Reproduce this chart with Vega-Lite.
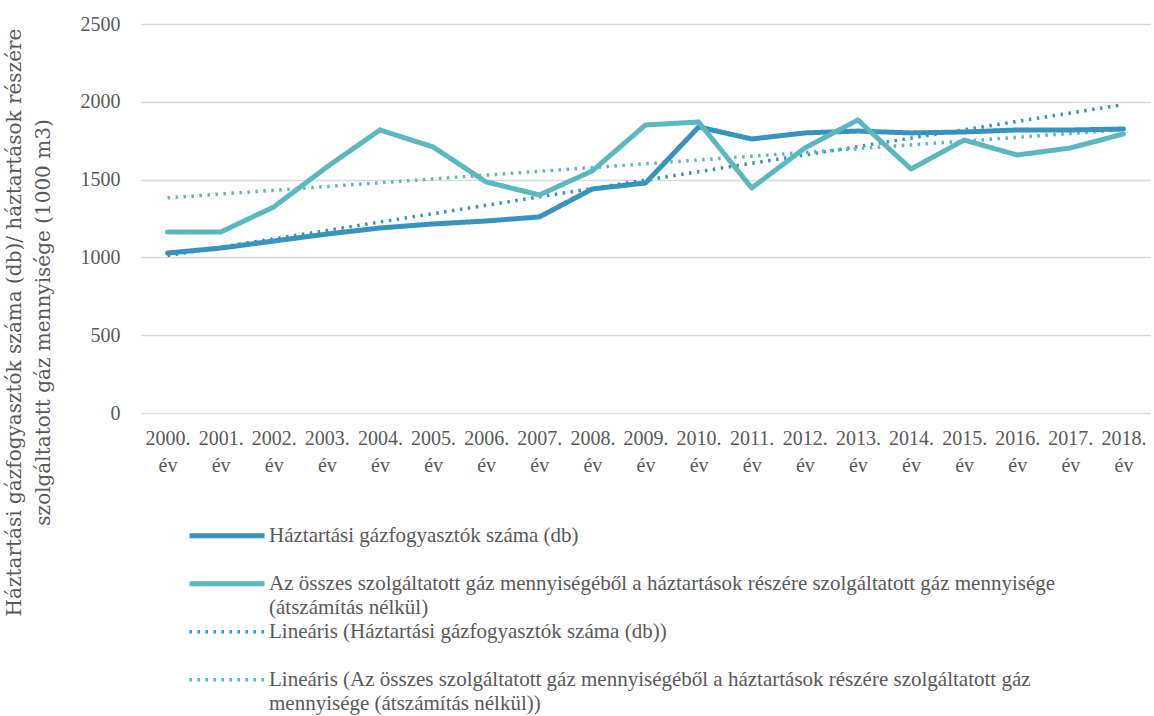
{
  "$schema": "https://vega.github.io/schema/vega-lite/v6.json",
  "width": 1009,
  "height": 389,
  "autosize": {"type": "none"},
  "padding": {"left": 141, "top": 24, "right": 4, "bottom": 303},
  "config": {
    "font": "Liberation Serif",
    "view": {"stroke": null},
    "legend": {
      "orient": "none",
      "legendX": 46,
      "legendY": 500,
      "direction": "vertical",
      "symbolType": "stroke",
      "symbolSize": 5625,
      "labelFontSize": 21,
      "labelColor": "#595959",
      "labelLimit": 1200,
      "labelOffset": 2,
      "rowPadding": 0,
      "clipHeight": 23.5
    }
  },
  "data": {
    "values": [
      {"year": 2000, "series": "db", "trend": "lin_db", "value": 1028},
      {"year": 2001, "series": "db", "trend": "lin_db", "value": 1060},
      {"year": 2002, "series": "db", "trend": "lin_db", "value": 1105},
      {"year": 2003, "series": "db", "trend": "lin_db", "value": 1150},
      {"year": 2004, "series": "db", "trend": "lin_db", "value": 1189},
      {"year": 2005, "series": "db", "trend": "lin_db", "value": 1215},
      {"year": 2006, "series": "db", "trend": "lin_db", "value": 1234},
      {"year": 2007, "series": "db", "trend": "lin_db", "value": 1260},
      {"year": 2008, "series": "db", "trend": "lin_db", "value": 1440},
      {"year": 2009, "series": "db", "trend": "lin_db", "value": 1478},
      {"year": 2010, "series": "db", "trend": "lin_db", "value": 1838},
      {"year": 2011, "series": "db", "trend": "lin_db", "value": 1761},
      {"year": 2012, "series": "db", "trend": "lin_db", "value": 1800},
      {"year": 2013, "series": "db", "trend": "lin_db", "value": 1812},
      {"year": 2014, "series": "db", "trend": "lin_db", "value": 1800},
      {"year": 2015, "series": "db", "trend": "lin_db", "value": 1806},
      {"year": 2016, "series": "db", "trend": "lin_db", "value": 1819},
      {"year": 2017, "series": "db", "trend": "lin_db", "value": 1819},
      {"year": 2018, "series": "db", "trend": "lin_db", "value": 1825},
      {"year": 2000, "series": "gaz", "trend": "lin_gaz", "value": 1163},
      {"year": 2001, "series": "gaz", "trend": "lin_gaz", "value": 1163},
      {"year": 2002, "series": "gaz", "trend": "lin_gaz", "value": 1324},
      {"year": 2003, "series": "gaz", "trend": "lin_gaz", "value": 1581},
      {"year": 2004, "series": "gaz", "trend": "lin_gaz", "value": 1819},
      {"year": 2005, "series": "gaz", "trend": "lin_gaz", "value": 1710},
      {"year": 2006, "series": "gaz", "trend": "lin_gaz", "value": 1485},
      {"year": 2007, "series": "gaz", "trend": "lin_gaz", "value": 1401},
      {"year": 2008, "series": "gaz", "trend": "lin_gaz", "value": 1556},
      {"year": 2009, "series": "gaz", "trend": "lin_gaz", "value": 1851},
      {"year": 2010, "series": "gaz", "trend": "lin_gaz", "value": 1870},
      {"year": 2011, "series": "gaz", "trend": "lin_gaz", "value": 1446},
      {"year": 2012, "series": "gaz", "trend": "lin_gaz", "value": 1703},
      {"year": 2013, "series": "gaz", "trend": "lin_gaz", "value": 1883},
      {"year": 2014, "series": "gaz", "trend": "lin_gaz", "value": 1568},
      {"year": 2015, "series": "gaz", "trend": "lin_gaz", "value": 1754},
      {"year": 2016, "series": "gaz", "trend": "lin_gaz", "value": 1658},
      {"year": 2017, "series": "gaz", "trend": "lin_gaz", "value": 1703},
      {"year": 2018, "series": "gaz", "trend": "lin_gaz", "value": 1793}
    ]
  },
  "encoding": {
    "x": {
      "field": "year",
      "type": "quantitative",
      "scale": {"domain": [1999.5, 2018.5], "nice": false, "zero": false},
      "axis": {
        "values": [2000, 2001, 2002, 2003, 2004, 2005, 2006, 2007, 2008, 2009, 2010, 2011, 2012, 2013, 2014, 2015, 2016, 2017, 2018],
        "labelExpr": "[datum.value + '.', 'év']",
        "grid": false,
        "ticks": false,
        "domain": false,
        "labelFontSize": 20,
        "labelColor": "#595959",
        "labelPadding": 15,
        "labelLineHeight": 27,
        "labelFlush": false,
        "labelOverlap": false,
        "title": null
      }
    },
    "y": {
      "field": "value",
      "type": "quantitative",
      "scale": {"domain": [0, 2500], "nice": false},
      "axis": {
        "values": [0, 500, 1000, 1500, 2000, 2500],
        "format": "d",
        "grid": true,
        "gridColor": "#d9d9d9",
        "gridWidth": 1.5,
        "domain": false,
        "ticks": false,
        "labelFontSize": 20,
        "labelColor": "#595959",
        "labelPadding": 21,
        "title": ["Háztartási gázfogyasztók száma (db)/ háztartások részére", "szolgáltatott gáz mennyisége (1000 m3)"],
        "titleFont": "DejaVu Serif",
        "titleFontSize": 20,
        "titleFontWeight": "normal",
        "titleColor": "#595959",
        "titleLineHeight": 29,
        "titleX": -127,
        "titleY": 298,
        "titleBaseline": "middle",
        "titleAngle": 270
      }
    }
  },
  "layer": [
    {
      "transform": [{"regression": "value", "on": "year", "groupby": ["trend"]}],
      "mark": {"type": "line"},
      "encoding": {
        "color": {
          "field": "trend",
          "type": "nominal",
          "scale": {"domain": ["db", "blank1", "gaz", "gaz2", "lin_db", "blank2", "lin_gaz", "lin_gaz2"], "range": ["#3794BE", "transparent", "#5AB8C1", "transparent", "#3794BE", "transparent", "#5AB8C1", "transparent"]},
          "legend": {
            "title": null,
            "labelExpr": "datum.value === 'db' ? 'Háztartási gázfogyasztók száma (db)' : datum.value === 'gaz' ? 'Az összes szolgáltatott gáz mennyiségéből a háztartások részére szolgáltatott gáz mennyisége' : datum.value === 'gaz2' ? '(átszámítás nélkül)' : datum.value === 'lin_db' ? 'Lineáris (Háztartási gázfogyasztók száma (db))' : datum.value === 'lin_gaz' ? 'Lineáris (Az összes szolgáltatott gáz mennyiségéből a háztartások részére szolgáltatott gáz' : datum.value === 'lin_gaz2' ? 'mennyisége (átszámítás nélkül))' : ''"
          }
        },
        "strokeDash": {
          "field": "trend",
          "type": "nominal",
          "scale": {"domain": ["db", "blank1", "gaz", "gaz2", "lin_db", "blank2", "lin_gaz", "lin_gaz2"], "range": [[1, 0], [1, 0], [1, 0], [1, 0], [2.5, 5.5], [1, 0], [2.5, 5.5], [1, 0]]}
        },
        "strokeWidth": {
          "field": "trend",
          "type": "ordinal",
          "scale": {"type": "ordinal", "domain": ["db", "blank1", "gaz", "gaz2", "lin_db", "blank2", "lin_gaz", "lin_gaz2"], "range": [5, 0, 5, 0, 3.5, 0, 3.5, 0]}
        }
      }
    },
    {
      "mark": {"type": "line", "strokeCap": "round", "strokeJoin": "round"},
      "encoding": {
        "color": {
          "field": "series",
          "type": "nominal",
          "scale": {"domain": ["db", "blank1", "gaz", "gaz2", "lin_db", "blank2", "lin_gaz", "lin_gaz2"], "range": ["#3794BE", "transparent", "#5AB8C1", "transparent", "#3794BE", "transparent", "#5AB8C1", "transparent"]},
          "legend": {
            "title": null,
            "labelExpr": "datum.value === 'db' ? 'Háztartási gázfogyasztók száma (db)' : datum.value === 'gaz' ? 'Az összes szolgáltatott gáz mennyiségéből a háztartások részére szolgáltatott gáz mennyisége' : datum.value === 'gaz2' ? '(átszámítás nélkül)' : datum.value === 'lin_db' ? 'Lineáris (Háztartási gázfogyasztók száma (db))' : datum.value === 'lin_gaz' ? 'Lineáris (Az összes szolgáltatott gáz mennyiségéből a háztartások részére szolgáltatott gáz' : datum.value === 'lin_gaz2' ? 'mennyisége (átszámítás nélkül))' : ''"
          }
        },
        "strokeDash": {
          "field": "series",
          "type": "nominal",
          "scale": {"domain": ["db", "blank1", "gaz", "gaz2", "lin_db", "blank2", "lin_gaz", "lin_gaz2"], "range": [[1, 0], [1, 0], [1, 0], [1, 0], [2.5, 5.5], [1, 0], [2.5, 5.5], [1, 0]]}
        },
        "strokeWidth": {
          "field": "series",
          "type": "ordinal",
          "scale": {"type": "ordinal", "domain": ["db", "blank1", "gaz", "gaz2", "lin_db", "blank2", "lin_gaz", "lin_gaz2"], "range": [5, 0, 5, 0, 3.5, 0, 3.5, 0]}
        }
      }
    }
  ]
}
